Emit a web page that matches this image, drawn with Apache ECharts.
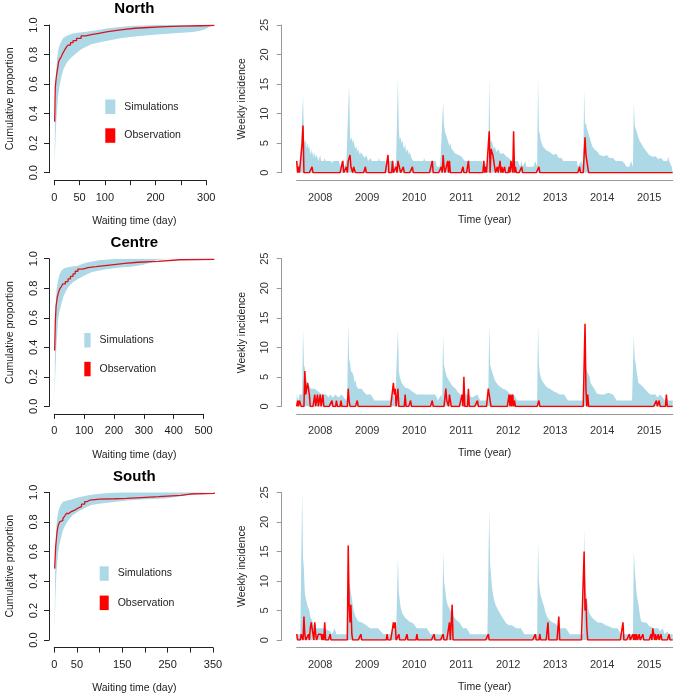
<!DOCTYPE html>
<html><head><meta charset="utf-8">
<script src="https://cdn.jsdelivr.net/npm/echarts@6/dist/echarts.min.js"></script>
<style>html,body{margin:0;padding:0;background:#fff}#c{width:675px;height:697px}</style>
</head><body><div id="c"></div><script>
// ---------------- DATA ----------------
const regions = ['North', 'Centre', 'South'];
const years = ['2008', '2009', '2010', '2011', '2012', '2013', '2014', '2015'];
const weekMax = 416;

// Waiting-time axes (days)
const northWaitMax = 316, centreWaitMax = 536, southWaitMax = 353;
const northWaitTicks = { step: 50, last: 300 };
const centreWaitTicks = { step: 100, last: 500 };
const southWaitTicks = { step: 50, last: 350 };
const northWaitLabels = [0, 50, 100, 200, 300];
const centreWaitLabels = [0, 100, 200, 300, 400, 500];
const southWaitLabels = [0, 50, 150, 250, 350];

// Cumulative proportion: observed ECDF and simulation envelope [day, proportion]
const northObs = [[0.7,0.345],[2,0.58],[4,0.65],[6,0.695],[8.6,0.752],[11,0.77],[14,0.786],[17,0.81],[20.5,0.831],[24,0.85],[27,0.864],[32,0.88],[37,0.894],[44,0.91],[53,0.926],[62,0.935],[73,0.944],[88,0.953],[103,0.962],[120,0.97],[139,0.978],[160,0.983],[185,0.989],[220,0.992],[251,0.995],[290,0.997],[316,1.0]];
const northSimUpper = [[0.7,0.13],[1.5,0.4],[2.7,0.6],[4,0.7],[6,0.786],[8,0.83],[10.6,0.864],[14,0.89],[17,0.91],[22,0.922],[27,0.931],[35,0.94],[46,0.948],[60,0.953],[73,0.959],[90,0.968],[106,0.978],[130,0.986],[152,0.993],[180,0.997],[205,1.0],[316,1.0]];
const northSimLower = [[0.7,0.05],[2,0.2],[4,0.357],[7.3,0.515],[10,0.58],[14,0.65],[18,0.7],[23.8,0.74],[30,0.768],[37,0.79],[45,0.813],[53,0.835],[63,0.853],[73,0.869],[86,0.88],[99.6,0.89],[115,0.9],[132.6,0.912],[155,0.92],[185,0.93],[210,0.937],[238,0.944],[260,0.95],[277.6,0.955],[290,0.962],[297,0.97],[305,0.985],[316,1.0]];

const centreObs = [[1.2,0.378],[3.5,0.581],[6,0.68],[10,0.739],[14,0.77],[18,0.795],[23,0.81],[29,0.829],[37,0.845],[46,0.863],[54,0.88],[62.6,0.897],[70,0.915],[79,0.93],[95,0.94],[113,0.946],[140,0.953],[169,0.96],[200,0.968],[236,0.976],[280,0.982],[347,0.993],[420,0.996],[536,1.0]];
const centreSimUpper = [[1.2,0.086],[2.5,0.45],[4.6,0.694],[8,0.8],[12.4,0.851],[17,0.89],[23.5,0.919],[33,0.935],[46,0.942],[60,0.948],[79,0.953],[95,0.965],[113,0.976],[150,0.99],[202,0.998],[536,1.0]];
const centreSimLower = [[1.2,0.04],[3,0.2],[6.8,0.401],[12.4,0.581],[17,0.64],[23.5,0.694],[31,0.745],[40,0.784],[50,0.815],[62.6,0.84],[75,0.858],[90,0.874],[106,0.892],[124,0.908],[150,0.92],[180,0.93],[220,0.94],[258,0.946],[290,0.955],[310,0.965],[325,0.976],[340,0.988],[347,0.993],[380,0.998],[536,1.0]];

const southObs = [[0.8,0.484],[3,0.631],[5,0.7],[6.6,0.745],[9,0.78],[11.8,0.801],[15,0.81],[19,0.824],[23,0.84],[26.4,0.857],[32,0.87],[37.4,0.88],[45,0.893],[52,0.903],[60,0.92],[67,0.937],[72,0.947],[78,0.955],[100,0.957],[133,0.959],[160,0.965],[191.6,0.971],[230,0.98],[279.6,0.989],[300,0.993],[353,1.0]];
const southSimUpper = [[0.8,0.133],[2,0.5],[4.5,0.767],[7,0.84],[9.6,0.88],[14,0.915],[19,0.937],[28,0.946],[37.4,0.952],[48,0.962],[59,0.971],[78,0.982],[96,0.989],[120,0.996],[147.5,1.0],[353,1.0]];
const southSimLower = [[0.8,0.066],[2.5,0.3],[4.5,0.45],[8,0.586],[11.5,0.65],[15.4,0.7],[20,0.75],[26.4,0.79],[33,0.82],[41,0.847],[50,0.866],[59,0.88],[70,0.898],[81.5,0.914],[98,0.924],[118,0.93],[145,0.94],[170,0.948],[205,0.954],[243,0.959],[270,0.97],[294,0.982],[315,0.992],[331,0.998],[353,1.0]];

// Weekly incidence: simulation upper envelope [week since start of 2008, cases]
const northSimWeekly = [
[0,2],[2,2],[3,1],[4,2],[6,2],[7,13],[8,6],[9,5],[10,5.5],[11,4],[12,5],[13,4],[14,4.5],[15,3],[16,4],[17,3],[18,3.5],[19,2.5],[20,3.5],[21,2.5],[22,3],[24,2],[26,3],[27,2],[30,2],[31,2.5],[32,2],[38,2],[39,1.5],[40,2],[47,2],[48,1],[50,2],[52,2],
[53,1],[55,2],[57,2],[58,15],[59,6],[60,5.5],[61,6],[62,5],[63,5.5],[64,4.5],[65,4],[66,4.5],[67,3.5],[68,4],[70,3],[71,3.5],[73,3],[75,2.5],[77,3],[79,2],[82,2.5],[83,2],[90,2],[91,2.5],[92,2],[98,2],[99,1],[101,2],[104,2],
[107,2],[108,1],[110,2],[111,2],[112,16],[113,7],[114,5.5],[115,6],[116,5],[117,5.5],[118,4.5],[119,4],[120,5],[121,3.5],[123,4],[124,3],[125,3.5],[127,2.5],[129,2],[140,2],[141,2.5],[142,2],[154,2],[155,1],[158,1],
[159,2],[161,2],[162,12],[163,8],[164,7],[165,6.5],[166,6],[167,5.5],[168,5.8],[169,4.5],[170,5],[171,4.2],[173,4],[175,3.3],[177,3.5],[179,3],[182,2.8],[184,2.5],[186,2],[205,2],[206,1],[208,2],[210,1],
[212,2],[213,16],[214,6],[215,5],[216,5.5],[217,4.5],[218,4],[219,4.5],[221,3.5],[223,4],[225,3.2],[227,3],[229,3.3],[232,2.7],[235,2.5],[237,2],[245,2],[247,1],[249,2],[250,1],[253,2],[254,1],[259,1],
[262,1],[264,2],[266,1],[267,16],[268,7],[269,6.5],[270,5.5],[271,5],[272,4.5],[274,4.2],[276,3.8],[278,4],[280,3.5],[282,3.3],[284,3],[287,3.2],[290,2.5],[293,2.5],[295,2],[310,2],[311,1],[313,1],
[315,2],[317,1],[318,14],[319,8],[320,8.5],[321,7.5],[322,7],[323,6.5],[324,6],[325,5.5],[326,5],[327,4.5],[329,4],[331,3.8],[333,3.5],[335,3],[337,3.2],[340,2.8],[343,3],[346,2.5],[350,2.5],[353,2],[360,2],[363,1.5],[365,1],
[368,1],[370,2],[372,1],[373,12],[374,8],[375,7.5],[376,7],[377,6.5],[378,6],[379,5.5],[380,5.3],[381,5],[382,4.8],[384,4.2],[386,3.8],[388,3.5],[390,3],[392,3.2],[394,2.7],[397,2.8],[400,2.3],[403,2.5],[406,2],[410,2],[411,2.8],[412,2],[414,2],[415,1],[416,1]];
const centreSimWeekly = [
[0,2],[2,1],[3,2],[6,2],[7,13],[8,7],[9,6.5],[10,5],[11,4.5],[12,4],[13,4],[14,3.5],[16,3],[18,3],[20,3],[22,2.8],[24,2.5],[26,2.5],[28,2],[33,2],[35,1.5],[37,2],[40,1.5],[43,2],[46,1.5],[50,2],[52,1.5],
[55,1],[56,2],[57,14],[58,8],[59,7.3],[60,6],[61,6],[62,5.6],[63,5],[64,4],[65,4.5],[66,3.5],[68,3],[70,2.8],[72,3],[74,2.5],[77,2],[82,2],[84,1.5],[86,1],[100,1],[103,1],
[105,1],[107,2],[109,1],[111,1],[112,13],[113,6],[114,5],[115,4.5],[116,4],[118,3.6],[120,3.2],[122,3],[124,3],[126,2.8],[128,2.5],[130,2.5],[133,2],[153,2],[155,1.5],[156,1],
[158,1],[160,2],[161,1],[162,12],[163,7],[164,6.2],[165,6],[166,5],[167,5],[168,4.8],[170,4],[172,3.5],[174,3.4],[176,3],[178,2.5],[181,2],[190,2],[192,2],[194,1.5],[200,2],[203,1],[207,1],
[209,1],[211,1],[212,2],[213,14],[214,7],[215,6.5],[216,6.2],[217,5.5],[218,5],[219,4.5],[221,4],[223,3.6],[225,3.4],[228,3],[231,2.8],[234,2.5],[236,2],[240,2],[242,1.5],[244,1],[259,1],
[261,1],[266,1],[267,14],[268,7],[269,5.6],[270,5],[271,4.5],[273,4],[275,3.6],[277,3.2],[280,3],[282,2.8],[285,2.5],[288,2.3],[291,2],[296,2],[298,1.5],[300,1],[317,1],
[318,1],[319,14],[320,7],[321,6],[322,6],[323,6],[324,5],[325,4],[327,3.5],[328,3.4],[330,2.8],[332,2.2],[334,2.5],[336,2],[340,2],[345,2.3],[350,2],[352,1.5],[354,1],[371,1],
[372,1],[373,12],[374,8],[375,7.3],[376,6],[377,5],[378,4],[380,3.8],[382,3.5],[383,3.4],[385,3],[388,2.5],[391,2],[397,2],[399,1.5],[402,2],[405,1.5],[407,1],[409,1.5],[411,1],[416,1]];
const southSimWeekly = [
[0,1],[4,1],[5,1],[6,25],[7,14],[8,11.9],[9,8],[10,7],[11,6.5],[12,5.8],[13,5.4],[14,5],[15,4],[16,3.8],[17,3.7],[18,3],[19,2.5],[20,2],[30,2],[33,1.8],[35,2],[37,1.5],[39,1],[42,2],[44,1],[52,1],
[54,1],[56,1],[57,17],[58,10],[59,9],[60,8],[61,7],[62,6],[63,5],[64,4.5],[65,4],[66,3.7],[68,3.2],[70,3],[72,3],[74,2.8],[77,2.5],[79,2.2],[81,2],[90,2],[93,1.5],[96,1],[104,1],
[106,1],[108,2],[110,1],[111,1],[112,14],[113,8],[114,6.8],[115,5.5],[116,5],[117,4.5],[118,4.2],[120,3.8],[122,3.5],[125,3.1],[127,3],[129,2.8],[131,2.5],[133,2],[144,2],[146,1.5],[148,1],[156,1],
[158,1],[161,1],[162,15],[163,10],[164,8.8],[165,7.5],[166,6.5],[167,6],[168,5.7],[170,5],[172,4.5],[174,4],[176,3.5],[178,3.2],[180,3],[182,2.5],[184,2],[188,2],[190,1.5],[192,1],[208,1],
[211,1],[212,1],[213,22],[214,13],[215,11],[216,9],[217,8],[218,7],[219,6.5],[220,6],[221,5.7],[223,5],[225,4.5],[227,4],[229,3.5],[232,2.8],[235,2.5],[238,2.5],[240,2.2],[243,2],[248,2],[250,1.5],[252,1],[262,1],
[264,1],[266,1],[267,17],[268,10],[269,8.5],[270,7.5],[271,7],[272,6.8],[273,6],[274,5.5],[275,4.8],[277,4],[279,3.5],[280,3.4],[283,3],[286,2.8],[288,2.5],[291,2],[298,2],[300,1.5],[302,1],[317,1],
[318,19],[319,11],[320,8.5],[321,7],[322,6],[323,5],[324,4.5],[326,4],[328,3.6],[330,3.4],[333,3],[336,3],[339,2.8],[342,2.5],[346,2.3],[350,2],[355,2],[357,1.5],[359,1],[372,1],
[373,15],[374,12],[375,10],[376,8],[377,7],[378,6.2],[379,5],[380,4],[381,3.2],[382,3],[384,3],[386,2.8],[387,3],[389,2.5],[392,2.2],[395,2],[400,2],[402,1.5],[405,2],[407,1],[410,1.5],[412,1],[416,1]];

// Observed weekly cases: weeks with non-zero counts [week, cases]; all other weeks are 0
const northObsWeekly = [[0,2],[2,1],[6,5],[7,8],[17,1],
[51,2],[55,1],[57,2],[58,2],[59,3],[60,1],[61,1],[63,1],[64,1],[76,1],
[101,3],[106,2],[110,1],[112,2],[113,2],[114,2],[118,1],[128,1],
[150,2],[160,1],[162,3],[163,1],[167,2],[169,2],[184,1],[190,2],
[207,2],[209,1],[213,7],[215,4],[216,4],[217,3],[218,2],[219,1],[222,1],[225,2],[227,1],[230,1],[235,1],[237,2],[238,1],[240,7],[242,1],[249,1],
[268,1],[313,1],[318,3],[319,6],[320,3],[321,2],[322,1]];
const centreObsWeekly = [[1,1],[3,1],[4,1],[9,6],[10,2],[11,2],[12,4],[13,4],[14,2],[20,2],[23,2],[26,2],[29,2],[39,1],[44,1],[49,1],
[57,3],[58,1],[67,1],
[107,4],[108,2],[109,3],[112,3],[120,2],[126,1],
[150,1],[165,3],[166,1],[167,1],[169,2],[170,1],[183,2],[185,5],[190,3],[200,1],
[212,3],[213,2],[214,2],[235,2],[237,2],[239,2],[241,1],
[268,1],[319,14],[320,3],[322,2],
[398,1],[401,1],[409,2]];
const southObsWeekly = [[0,1],[5,1],[6,1],[8,4],[9,1],[13,1],[15,2],[16,3],[17,3],[18,1],[20,3],[21,1],[24,1],[25,1],[26,1],[27,1],[29,1],[31,3],[37,1],
[57,16],[58,6],[59,3],[60,6],[61,1],[71,1],
[100,1],[106,2],[107,3],[108,2],[109,3],[113,1],[122,1],[133,1],
[152,1],[162,1],[169,3],[172,6],
[212,1],
[264,1],[269,1],[278,3],[290,4],
[318,15],[319,5],[320,7],[321,2],
[361,3],[368,1],[372,1],[374,1],[376,1],[379,1],[383,1],[392,1],[394,2],[395,1],[397,1],[400,1],[403,1],[412,1]];

// ---------------- CHART ----------------
const FONT = "'Liberation Sans', Arial, Helvetica, sans-serif";
const BLUE = '#ADD8E6', RED = '#FF0000';
const rowTop = [25, 258.7, 492.4], plotH = 147.7;
const leftX = 54.3, leftW = 160, rightX = 296.7, rightW = 376;
const titleTop = [1.8, 235.5, 469.2];
const legendPos = [
  { left: 105.3, top: 99.5, w: 10, h: 14.5, gap: 14.3 },
  { left: 84.3, top: 333, w: 6.3, h: 14.5, gap: 14.3 },
  { left: 99.7, top: 566.3, w: 9, h: 14.5, gap: 14.8 }
];

function expandWeekly(nonZero) {
  const arr = [];
  for (let w = 0; w <= weekMax; w++) arr.push([w, 0]);
  nonZero.forEach(([w, v]) => { arr[w][1] = v; });
  return arr;
}

const panels = [
  { waitMax: northWaitMax, ticks: northWaitTicks, labels: northWaitLabels, obs: northObs, up: northSimUpper, lo: northSimLower, sim: northSimWeekly, obsW: northObsWeekly },
  { waitMax: centreWaitMax, ticks: centreWaitTicks, labels: centreWaitLabels, obs: centreObs, up: centreSimUpper, lo: centreSimLower, sim: centreSimWeekly, obsW: centreObsWeekly },
  { waitMax: southWaitMax, ticks: southWaitTicks, labels: southWaitLabels, obs: southObs, up: southSimUpper, lo: southSimLower, sim: southSimWeekly, obsW: southObsWeekly }
];

const option = { animation: false, grid: [], xAxis: [], yAxis: [], series: [], legend: [], title: [] };
const nameStyle = { fontSize: 10.5, fontFamily: FONT, color: '#222' };
const labStyleL = { fontSize: 11, fontFamily: FONT, color: '#1a1a1a' };
const labStyleR = { fontSize: 11, fontFamily: FONT, color: '#333' };

panels.forEach((p, i) => {
  const top = rowTop[i];
  const g = option.grid.length;
  option.grid.push({ left: leftX, top: top, width: leftW, height: plotH });
  option.grid.push({ left: leftX, top: top, width: leftW * p.ticks.last / p.waitMax, height: plotH });
  option.grid.push({ left: rightX, top: top, width: rightW, height: plotH });

  const x = option.xAxis.length;
  option.xAxis.push({ type: 'value', gridIndex: g, position: 'bottom', min: 0, max: p.waitMax,
    axisLine: { show: false, onZero: false }, axisTick: { show: false }, axisLabel: { show: false }, splitLine: { show: false },
    name: 'Waiting time (day)', nameLocation: 'middle', nameGap: 43, nameTextStyle: nameStyle });
  option.xAxis.push({ type: 'value', gridIndex: g + 1, position: 'bottom', min: 0, max: p.ticks.last, interval: p.ticks.step, offset: 7.5,
    axisLine: { onZero: false, lineStyle: { color: '#222', width: 1 } },
    axisTick: { length: 5, lineStyle: { color: '#222' } },
    axisLabel: Object.assign({ margin: 12, hideOverlap: false, formatter: v => p.labels.indexOf(v) >= 0 ? String(v) : '' }, labStyleL),
    splitLine: { show: false } });
  option.xAxis.push({ type: 'value', gridIndex: g + 2, position: 'bottom', min: 0, max: weekMax, show: false, axisLine: { onZero: false } });
  option.xAxis.push({ type: 'category', gridIndex: g + 2, position: 'bottom', data: years, boundaryGap: true, offset: 7.5,
    axisLine: { onZero: false, lineStyle: { color: '#999', width: 1 } },
    axisTick: { length: 5, interval: 0, lineStyle: { color: '#999' } },
    axisLabel: Object.assign({ margin: 12, interval: 0 }, labStyleR),
    name: 'Time (year)', nameLocation: 'middle', nameGap: 34, nameTextStyle: nameStyle });

  const y = option.yAxis.length;
  option.yAxis.push({ type: 'value', gridIndex: g, position: 'left', min: 0, max: 1, interval: 0.2, offset: 5.3,
    axisLine: { show: true, onZero: false, lineStyle: { color: '#222', width: 1 } },
    axisTick: { show: true, length: 5, lineStyle: { color: '#222' } },
    axisLabel: Object.assign({ rotate: 90, margin: 9.5, formatter: v => v.toFixed(1) }, labStyleL),
    splitLine: { show: false },
    name: 'Cumulative proportion', nameLocation: 'middle', nameGap: 33, nameTextStyle: nameStyle });
  option.yAxis.push({ type: 'value', gridIndex: g + 1, min: 0, max: 1, show: false, axisLine: { onZero: false } });
  option.yAxis.push({ type: 'value', gridIndex: g + 2, position: 'left', min: 0, max: 25, interval: 5, offset: 15,
    axisLine: { show: true, onZero: false, lineStyle: { color: '#999', width: 1 } },
    axisTick: { show: true, length: 5, lineStyle: { color: '#999' } },
    axisLabel: Object.assign({ rotate: 90, margin: 11.5 }, labStyleR),
    splitLine: { show: false },
    name: 'Weekly incidence', nameLocation: 'middle', nameGap: 34, nameTextStyle: nameStyle });

  // left: simulation band
  option.series.push({ type: 'custom', name: 'Simulations', xAxisIndex: x, yAxisIndex: y, data: [[0, 0]], silent: true, z: 1,
    itemStyle: { color: BLUE },
    renderItem: (params, api) => {
      const pts = p.up.map(d => api.coord(d)).concat(p.lo.slice().reverse().map(d => api.coord(d)));
      return { type: 'polygon', shape: { points: pts }, style: { fill: BLUE } };
    } });
  // left: observed ECDF
  option.series.push({ type: 'line', name: 'Observation', xAxisIndex: x, yAxisIndex: y, data: p.obs, step: 'end',
    symbol: 'none', z: 3, itemStyle: { color: RED }, lineStyle: { color: '#D8141E', width: 1.3 } });
  // right: simulation envelope
  option.series.push({ type: 'line', name: 'Simulations', xAxisIndex: x + 2, yAxisIndex: y + 2, data: p.sim,
    symbol: 'none', z: 1, itemStyle: { color: BLUE }, lineStyle: { width: 0, color: BLUE },
    areaStyle: { color: BLUE, opacity: 1 } });
  // right: observed weekly incidence
  option.series.push({ type: 'line', name: 'Observation', xAxisIndex: x + 2, yAxisIndex: y + 2, data: expandWeekly(p.obsW),
    symbol: 'none', z: 3, itemStyle: { color: RED }, lineStyle: { color: RED, width: 1.5 } });

  const L = legendPos[i];
  option.legend.push({ orient: 'vertical', left: L.left, top: L.top, itemWidth: L.w, itemHeight: L.h, itemGap: L.gap,
    padding: 0, selectedMode: false,
    textStyle: { fontSize: 10.5, fontFamily: FONT, color: '#222', padding: [0, 0, 0, 4] },
    data: [{ name: 'Simulations', icon: 'rect', itemStyle: { color: BLUE } },
           { name: 'Observation', icon: 'rect', itemStyle: { color: RED } }] });

  option.title.push({ text: regions[i], left: leftX - 6.3 + (leftW + 12.6) / 2, top: titleTop[i], textAlign: 'center', padding: 0,
    textStyle: { fontSize: 15, fontWeight: 'bold', fontFamily: FONT, color: '#000' } });
});

const chart = echarts.init(document.getElementById('c'), null, { renderer: 'canvas' });
chart.setOption(option);
</script></body></html>
